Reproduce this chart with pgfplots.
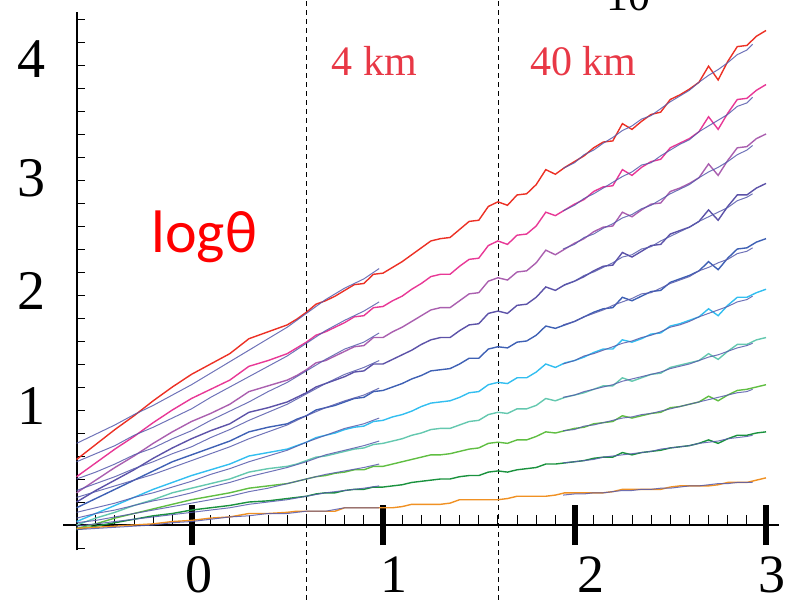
\documentclass[border=0pt]{standalone}
\usepackage{pgfplots}
\pgfplotsset{compat=1.18}
\usepackage{pgfplotstable}
\usepackage{fontspec}
\setmainfont{Liberation Serif}
\newfontfamily\labelsans{Carlito}

\definecolor{cred}{RGB}{236,48,36}
\definecolor{cpink}{RGB}{232,56,150}
\definecolor{cpurple}{RGB}{170,95,175}
\definecolor{cdslate}{RGB}{92,82,168}
\definecolor{croyal}{RGB}{62,96,180}
\definecolor{ccyan}{RGB}{50,190,240}
\definecolor{cturq}{RGB}{100,200,175}
\definecolor{clgreen}{RGB}{96,190,66}
\definecolor{cdgreen}{RGB}{26,146,62}
\definecolor{corange}{RGB}{240,145,35}
\definecolor{cmodel}{RGB}{86,90,172}
\definecolor{kmred}{RGB}{232,56,70}

% measured curves, one column per level
\pgfplotstableread{
x     red  pink purple dslate royal cyan turq lgreen dgreen orange
-0.6  0.57 0.42 0.28 0.20 0.15 0.03 0.00 -0.03 -0.04 -0.03
-0.5  0.70 0.54 0.39 0.30 0.23 0.10 0.06 0.01 -0.01 -0.02
-0.4  0.83 0.66 0.50 0.39 0.31 0.17 0.11 0.06 0.02 -0.01
-0.3  0.95 0.77 0.60 0.48 0.39 0.24 0.17 0.10 0.05 0.00
-0.2  1.08 0.89 0.71 0.58 0.47 0.31 0.22 0.14 0.08 0.01
-0.1  1.20 1.00 0.81 0.67 0.55 0.37 0.28 0.18 0.10 0.03
0.0   1.31 1.10 0.90 0.75 0.61 0.43 0.32 0.22 0.13 0.04
0.1   1.40 1.18 0.97 0.82 0.67 0.48 0.36 0.25 0.15 0.06
0.2   1.49 1.26 1.05 0.88 0.73 0.53 0.40 0.28 0.17 0.07
0.3   1.62 1.38 1.16 0.98 0.81 0.60 0.46 0.32 0.20 0.10
0.4   1.68 1.43 1.21 1.02 0.85 0.63 0.49 0.34 0.21 0.10
0.5   1.74 1.49 1.26 1.07 0.88 0.66 0.51 0.36 0.23 0.11
0.55  1.79 1.54 1.30 1.11 0.92 0.69 0.53 0.38 0.24 0.12
0.6   1.85 1.59 1.35 1.15 0.95 0.72 0.56 0.40 0.25 0.12
0.65  1.92 1.65 1.41 1.20 1.00 0.76 0.59 0.42 0.27 0.12
0.7   1.95 1.68 1.43 1.23 1.02 0.78 0.60 0.43 0.28 0.12
0.75  1.99 1.72 1.47 1.26 1.04 0.80 0.62 0.45 0.28 0.12
0.8   2.04 1.76 1.51 1.29 1.07 0.83 0.64 0.46 0.30 0.15
0.85  2.09 1.81 1.55 1.33 1.10 0.85 0.66 0.48 0.31 0.15
0.9   2.10 1.82 1.56 1.34 1.11 0.86 0.67 0.48 0.31 0.15
0.95  2.18 1.89 1.63 1.40 1.16 0.90 0.70 0.51 0.33 0.15
1.0   2.19 1.90 1.63 1.40 1.17 0.91 0.71 0.51 0.33 0.15
1.05  2.24 1.95 1.68 1.44 1.20 0.94 0.73 0.53 0.34 0.15
1.1   2.29 1.99 1.72 1.48 1.23 0.96 0.75 0.55 0.35 0.16
1.15  2.35 2.05 1.77 1.52 1.27 0.99 0.78 0.57 0.37 0.18
1.2   2.41 2.10 1.82 1.57 1.30 1.03 0.80 0.59 0.38 0.18
1.25  2.47 2.16 1.87 1.61 1.34 1.06 0.83 0.61 0.39 0.18
1.3   2.49 2.18 1.89 1.63 1.35 1.07 0.84 0.61 0.40 0.18
1.35  2.50 2.18 1.89 1.63 1.36 1.08 0.84 0.62 0.40 0.19
1.4   2.57 2.25 1.95 1.69 1.40 1.11 0.87 0.64 0.42 0.22
1.45  2.64 2.31 2.01 1.74 1.45 1.15 0.90 0.66 0.43 0.22
1.5   2.65 2.32 2.02 1.75 1.45 1.16 0.91 0.67 0.43 0.22
1.55  2.77 2.43 2.12 1.84 1.53 1.22 0.96 0.71 0.46 0.22
1.6   2.81 2.47 2.15 1.86 1.55 1.24 0.98 0.72 0.47 0.22
1.65  2.78 2.44 2.13 1.84 1.54 1.23 0.97 0.71 0.46 0.23
1.7   2.87 2.52 2.20 1.91 1.59 1.28 1.01 0.74 0.48 0.25
1.75  2.88 2.53 2.21 1.92 1.60 1.28 1.01 0.74 0.49 0.25
1.8   2.96 2.60 2.28 1.98 1.65 1.33 1.04 0.77 0.50 0.25
1.85  3.09 2.72 2.39 2.07 1.73 1.40 1.10 0.81 0.53 0.25
1.9   3.05 2.69 2.35 2.04 1.71 1.37 1.08 0.80 0.53 0.26
1.95  3.11 2.74 2.40 2.09 1.74 1.41 1.11 0.82 0.54 0.28
2.0   3.16 2.79 2.45 2.12 1.77 1.43 1.13 0.84 0.55 0.28
2.05  3.21 2.83 2.49 2.16 1.81 1.46 1.15 0.85 0.56 0.28
2.1   3.28 2.90 2.55 2.21 1.85 1.50 1.18 0.88 0.58 0.28
2.15  3.33 2.94 2.59 2.25 1.88 1.53 1.21 0.89 0.59 0.28
2.2   3.34 2.95 2.60 2.26 1.89 1.53 1.21 0.90 0.59 0.29
2.25  3.49 3.09 2.72 2.37 1.98 1.61 1.28 0.95 0.63 0.31
2.3   3.44 3.04 2.68 2.33 1.95 1.59 1.25 0.93 0.61 0.31
2.35  3.51 3.11 2.74 2.38 1.99 1.62 1.28 0.95 0.63 0.31
2.4   3.57 3.16 2.79 2.43 2.03 1.66 1.31 0.97 0.64 0.31
2.45  3.59 3.18 2.80 2.44 2.04 1.67 1.32 0.98 0.65 0.31
2.5   3.70 3.28 2.90 2.53 2.11 1.73 1.37 1.02 0.67 0.33
2.55  3.74 3.32 2.93 2.56 2.14 1.75 1.39 1.03 0.68 0.34
2.6   3.79 3.36 2.97 2.59 2.17 1.78 1.41 1.05 0.69 0.34
2.65  3.85 3.42 3.02 2.64 2.21 1.81 1.43 1.07 0.71 0.34
2.7   3.99 3.55 3.14 2.74 2.29 1.88 1.49 1.12 0.74 0.34
2.75  3.87 3.44 3.04 2.65 2.22 1.82 1.44 1.08 0.71 0.35
2.8   4.03 3.58 3.17 2.77 2.32 1.91 1.51 1.13 0.75 0.37
2.85  4.16 3.70 3.28 2.87 2.40 1.98 1.57 1.17 0.78 0.37
2.9   4.17 3.71 3.29 2.87 2.41 1.98 1.57 1.18 0.78 0.37
2.95  4.25 3.78 3.36 2.93 2.46 2.02 1.61 1.20 0.80 0.39
3.0   4.30 3.83 3.40 2.97 2.49 2.05 1.63 1.22 0.81 0.41
}\measured

% model fit, short range
\pgfplotstableread{
x     red  pink purple dslate royal cyan turq lgreen dgreen orange
-0.6  0.71 0.55 0.40 0.30 0.24 0.11 0.06 0.02 -0.01 -0.04
-0.5  0.79 0.62 0.46 0.36 0.29 0.15 0.10 0.04 0.01 -0.03
-0.4  0.87 0.69 0.53 0.42 0.34 0.19 0.13 0.07 0.03 -0.02
-0.3  0.96 0.78 0.61 0.49 0.39 0.24 0.17 0.10 0.05 -0.01
-0.2  1.04 0.85 0.67 0.55 0.44 0.28 0.21 0.13 0.07 0.00
-0.1  1.13 0.93 0.75 0.62 0.50 0.33 0.24 0.16 0.09 0.02
0.0   1.22 1.01 0.82 0.68 0.56 0.38 0.28 0.19 0.11 0.03
0.1   1.32 1.11 0.91 0.76 0.62 0.44 0.33 0.22 0.13 0.05
0.2   1.42 1.20 0.99 0.83 0.68 0.49 0.37 0.25 0.15 0.07
0.3   1.52 1.29 1.07 0.91 0.75 0.55 0.42 0.29 0.18 0.08
0.4   1.62 1.38 1.16 0.98 0.81 0.60 0.46 0.32 0.20 0.10
0.5   1.72 1.47 1.24 1.05 0.87 0.65 0.50 0.36 0.22 0.10
0.6   1.84 1.58 1.34 1.14 0.95 0.72 0.55 0.40 0.25 0.12
0.7   1.96 1.69 1.44 1.23 1.02 0.78 0.61 0.44 0.28 0.12
0.8   2.06 1.78 1.53 1.31 1.08 0.84 0.65 0.47 0.30 0.15
0.9   2.14 1.86 1.59 1.37 1.13 0.88 0.69 0.50 0.32 0.15
0.98  2.23 1.94 1.67 1.43 1.19 0.93 0.73 0.53 0.34 0.15
}\modelshort

% model fit, long range
\pgfplotstableread{
x     red  pink purple dslate royal cyan turq lgreen dgreen orange
1.94  3.10 2.73 2.40 2.08 1.74 1.40 1.11 0.82 0.54 0.26
2.0   3.15 2.78 2.44 2.12 1.77 1.43 1.13 0.83 0.55 0.27
2.05  3.22 2.84 2.50 2.17 1.81 1.47 1.16 0.86 0.56 0.27
2.1   3.26 2.88 2.53 2.20 1.84 1.49 1.18 0.87 0.57 0.28
2.15  3.32 2.93 2.58 2.24 1.87 1.52 1.20 0.89 0.59 0.28
2.2   3.37 2.98 2.62 2.28 1.91 1.55 1.22 0.91 0.60 0.29
2.25  3.43 3.03 2.67 2.33 1.94 1.58 1.25 0.93 0.61 0.30
2.3   3.47 3.07 2.70 2.35 1.97 1.60 1.27 0.94 0.62 0.30
2.35  3.53 3.13 2.75 2.40 2.01 1.63 1.29 0.96 0.63 0.31
2.4   3.56 3.15 2.78 2.42 2.02 1.65 1.31 0.97 0.64 0.31
2.45  3.62 3.21 2.83 2.47 2.06 1.68 1.33 0.99 0.66 0.32
2.5   3.68 3.26 2.88 2.51 2.10 1.72 1.36 1.01 0.67 0.32
2.55  3.73 3.31 2.92 2.55 2.13 1.74 1.38 1.03 0.68 0.33
2.6   3.78 3.35 2.96 2.59 2.16 1.77 1.40 1.05 0.69 0.34
2.65  3.85 3.42 3.02 2.64 2.21 1.81 1.43 1.07 0.71 0.34
2.7   3.91 3.47 3.07 2.68 2.24 1.84 1.46 1.09 0.72 0.35
2.75  3.96 3.52 3.11 2.72 2.28 1.87 1.48 1.11 0.73 0.36
2.8   4.02 3.57 3.16 2.76 2.31 1.90 1.51 1.13 0.75 0.36
2.85  4.09 3.64 3.22 2.82 2.36 1.94 1.54 1.15 0.76 0.37
2.9   4.13 3.67 3.26 2.85 2.38 1.96 1.56 1.16 0.77 0.37
2.93  4.18 3.72 3.30 2.88 2.41 1.99 1.58 1.18 0.78 0.37
}\modellong

\begin{document}
\begin{tikzpicture}
\begin{axis}[
  x=191.5pt, y=115pt,
  xmin=-1, xmax=3.0992, ymin=-0.6435, ymax=4.5652,
  hide axis, clip=false,
  every axis plot/.append style={no markers, sharp plot},
]
  % frame: vertical axis, horizontal axis, ticks
  \draw[line width=1.1pt] (axis cs:-0.598,-0.22) -- (axis cs:-0.598,4.46);
  \draw[line width=1.1pt] (axis cs:-0.67,0) -- (axis cs:3.07,0);
  \pgfplotsinvokeforeach{-0.2,0.2,0.4,0.6,0.8,1,1.2,1.4,1.6,1.8,2,2.2,2.4,2.6,2.8,3,3.2,3.4,3.6,3.8,4,4.2,4.4}{
    \draw[line width=0.9pt] (axis cs:-0.598,#1) -- ([xshift=8pt]axis cs:-0.598,#1);
  }
  \pgfplotsinvokeforeach{-0.5,-0.4,-0.3,-0.2,-0.1,0.1,0.2,0.3,0.4,0.5,0.6,0.7,0.8,0.9,1.1,1.2,1.3,1.4,1.5,1.6,1.7,1.8,1.9,2.1,2.2,2.3,2.4,2.5,2.6,2.7,2.8,2.9}{
    \draw[line width=0.9pt] (axis cs:#1,0) -- ([yshift=10pt]axis cs:#1,0);
  }
  \pgfplotsinvokeforeach{0,1,2,3}{
    \draw[line width=6pt] ([yshift=-20pt]axis cs:#1,0) -- ([yshift=20pt]axis cs:#1,0);
  }
  % 4 km and 40 km markers
  \draw[line width=1pt, dash pattern=on 5pt off 4pt] (axis cs:0.602,-0.65) -- (axis cs:0.602,4.57);
  \draw[line width=1pt, dash pattern=on 5pt off 4pt] (axis cs:1.602,-0.65) -- (axis cs:1.602,4.57);

  % measured curves
  \addplot[cred,    line width=1.4pt] table[x=x,y=red]    {\measured};
  \addplot[cpink,   line width=1.4pt] table[x=x,y=pink]   {\measured};
  \addplot[cpurple, line width=1.4pt] table[x=x,y=purple] {\measured};
  \addplot[cdslate, line width=1.4pt] table[x=x,y=dslate] {\measured};
  \addplot[croyal,  line width=1.4pt] table[x=x,y=royal]  {\measured};
  \addplot[ccyan,   line width=1.4pt] table[x=x,y=cyan]   {\measured};
  \addplot[cturq,   line width=1.4pt] table[x=x,y=turq]   {\measured};
  \addplot[clgreen, line width=1.4pt] table[x=x,y=lgreen] {\measured};
  \addplot[cdgreen, line width=1.4pt] table[x=x,y=dgreen] {\measured};
  \addplot[corange, line width=1.4pt] table[x=x,y=orange] {\measured};

  % model fits
  \pgfplotsinvokeforeach{red,pink,purple,dslate,royal,cyan,turq,lgreen,dgreen,orange}{
    \addplot[cmodel, line width=1pt, opacity=0.85] table[x=x,y=#1] {\modelshort};
    \addplot[cmodel, line width=1pt, opacity=0.85] table[x=x,y=#1] {\modellong};
  }

  % tick labels
  \pgfplotsset{every node/.append style={inner sep=0pt}}
  \node[anchor=base, font=\fontsize{54}{58}\selectfont] at (axis cs:0.04,-0.585) {0};
  \node[anchor=base, font=\fontsize{54}{58}\selectfont] at (axis cs:1.057,-0.585) {1};
  \node[anchor=base, font=\fontsize{54}{58}\selectfont] at (axis cs:2.086,-0.585) {2};
  \node[anchor=base, font=\fontsize{54}{58}\selectfont] at (axis cs:3.03,-0.585) {3};
  \node[anchor=base, font=\fontsize{56}{60}\selectfont] at (axis cs:-0.838,0.87) {1};
  \node[anchor=base, font=\fontsize{56}{60}\selectfont] at (axis cs:-0.838,1.87) {2};
  \node[anchor=base, font=\fontsize{56}{60}\selectfont] at (axis cs:-0.838,2.86) {3};
  \node[anchor=base, font=\fontsize{56}{60}\selectfont] at (axis cs:-0.838,3.89) {4};

  % annotations
  \node[anchor=base west, text=red, font=\labelsans\fontsize{60}{66}\selectfont] at (axis cs:-0.227,2.37) {logθ};
  \node[anchor=base west, text=kmred, font=\fontsize{42}{46}\selectfont] at (axis cs:0.715,3.91) {4 km};
  \node[anchor=base west, text=kmred, font=\fontsize{42}{46}\selectfont] at (axis cs:1.75,3.91) {40 km};
  \node[anchor=base west, font=\fontsize{44}{48}\selectfont] at (axis cs:2.149,4.478) {10};

  \coordinate (bbSW) at (axis cs:-1,-0.6435);
  \coordinate (bbNE) at (axis cs:3.0992,4.5652);
\end{axis}
\pgfresetboundingbox
\useasboundingbox (bbSW) rectangle (bbNE);
\end{tikzpicture}
\end{document}
